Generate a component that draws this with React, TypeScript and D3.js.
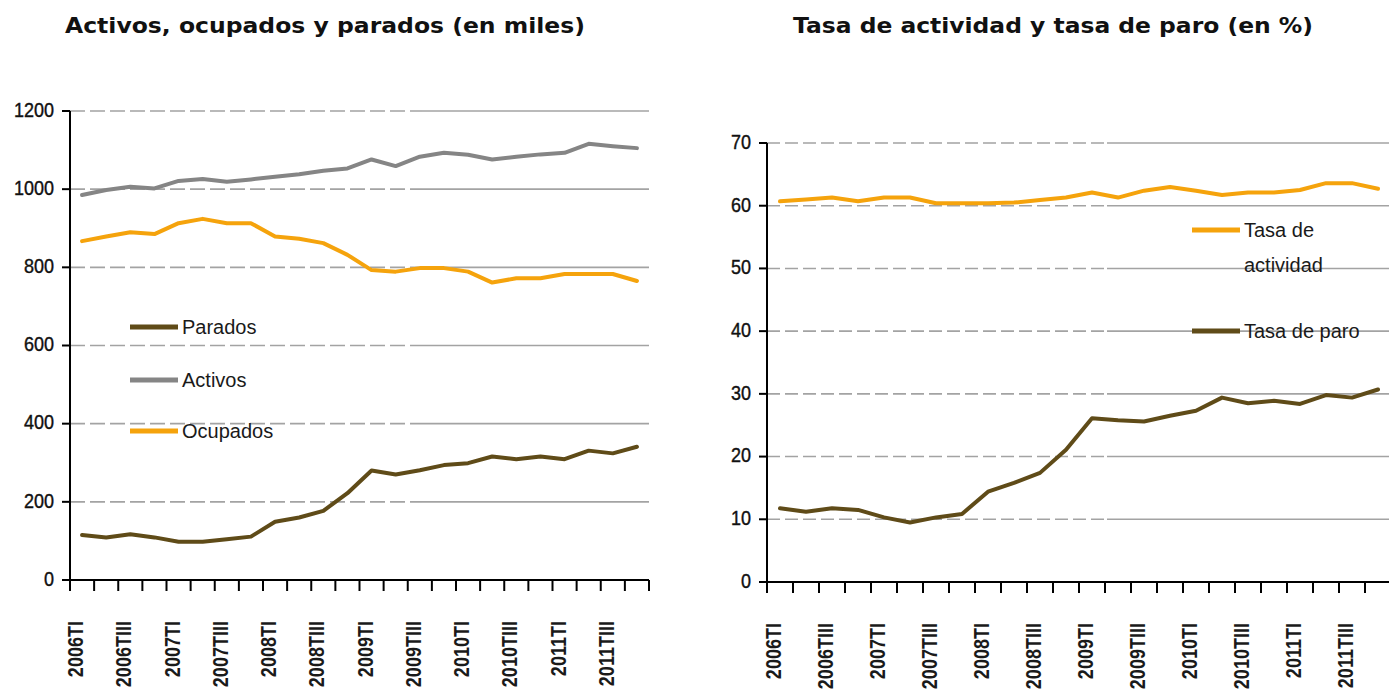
import React from "react";
import * as d3 from "d3";

const categories = [
  "2006TI", "2006TII", "2006TIII", "2006TIV",
  "2007TI", "2007TII", "2007TIII", "2007TIV",
  "2008TI", "2008TII", "2008TIII", "2008TIV",
  "2009TI", "2009TII", "2009TIII", "2009TIV",
  "2010TI", "2010TII", "2010TIII", "2010TIV",
  "2011TI", "2011TII", "2011TIII", "2011TIV",
];

const activos = [985, 998, 1006, 1002, 1021, 1026, 1019, 1025, 1032, 1038, 1047, 1053, 1076, 1059, 1083, 1093, 1088, 1076, 1083, 1089, 1093, 1116, 1110, 1105];
const ocupados = [867, 879, 890, 885, 913, 924, 913, 913, 879, 873, 862, 832, 793, 789, 798, 798, 789, 761, 772, 772, 783, 783, 783, 765];
const parados = [115, 109, 117, 109, 98, 98, 104, 111, 149, 160, 177, 222, 280, 270, 281, 294, 299, 316, 309, 316, 309, 331, 324, 341];

const tasaActividad = [60.7, 61.0, 61.3, 60.7, 61.3, 61.3, 60.4, 60.4, 60.4, 60.5, 60.9, 61.3, 62.1, 61.3, 62.4, 63.0, 62.4, 61.7, 62.1, 62.1, 62.5, 63.6, 63.6, 62.7];
const tasaParo = [11.75, 11.2, 11.75, 11.5, 10.3, 9.5, 10.3, 10.85, 14.4, 15.8, 17.4, 21.1, 26.1, 25.8, 25.6, 26.5, 27.3, 29.4, 28.5, 28.9, 28.4, 29.8, 29.4, 30.7];

const leftTicks = [0, 200, 400, 600, 800, 1000, 1200];
const rightTicks = [0, 10, 20, 30, 40, 50, 60, 70];

const C_PARADOS = "#5f4b18";
const C_ACTIVOS = "#858585";
const C_OCUPADOS = "#f5a30c";
const C_GRID = "#a3a3a3";
const FONT = "'Liberation Sans', Arial, sans-serif";

type Series = { values: number[]; color: string };
type Legend = { lines: string[]; color: string; y: number };

function Panel(props: {
  x0: number; x1: number; y0: number; y1: number; max: number;
  ticks: number[]; series: Series[]; split: number; dash: string;
  legendX: number; legends: Legend[]; title: string; titleX: number;
}) {
  const { x0, x1, y0, y1, max, ticks, series, split, dash, legendX, legends, title, titleX } = props;
  const x = d3.scaleBand<string>().domain(categories).range([x0, x1]).padding(0);
  const y = d3.scaleLinear().domain([0, max]).range([y0, y1]);
  const line = d3.line<number>()
    .x((_, i) => (x(categories[i]) as number) + x.bandwidth() / 2)
    .y((d) => y(d));
  const tickXs = categories.map((c) => x(c) as number).concat([x1]);
  return (
    <g>
      <text x={titleX} y={33} fontFamily="'DejaVu Sans', sans-serif" fontWeight="bold" fontSize={21}
        textLength={520} lengthAdjust="spacingAndGlyphs" fill="#111">{title}</text>
      {ticks.filter((t) => t > 0).map((t) => (
        <g key={"g" + t}>
          <line x1={x0} x2={split} y1={y(t)} y2={y(t)} stroke={C_GRID} strokeWidth={1.6} strokeDasharray={dash} />
          <line x1={split} x2={x1} y1={y(t)} y2={y(t)} stroke={C_GRID} strokeWidth={1.6} />
        </g>
      ))}
      {series.map((s, i) => (
        <path key={"s" + i} d={line(s.values) || ""} fill="none" stroke={s.color} strokeWidth={4}
          strokeLinejoin="round" strokeLinecap="round" />
      ))}
      <line x1={x0} x2={x0} y1={y(max)} y2={y0} stroke="#000" strokeWidth={2} />
      <line x1={x0} x2={x1} y1={y0} y2={y0} stroke="#000" strokeWidth={2} />
      {ticks.map((t) => (
        <g key={"yt" + t}>
          <line x1={x0 - 8} x2={x0} y1={y(t)} y2={y(t)} stroke="#000" strokeWidth={2} />
          <text transform={`translate(${x0 - 16},${y(t) - 1}) scale(0.9,1)`} textAnchor="end"
            dominantBaseline="central" fontFamily={FONT} fontSize={20} fill="#111"
            stroke="#111" strokeWidth={0.4}>{t}</text>
        </g>
      ))}
      {tickXs.map((tx, i) => (
        <line key={"xt" + i} x1={tx} x2={tx} y1={y0} y2={y0 + 11} stroke="#000" strokeWidth={2} />
      ))}
      {categories.map((c, i) => i % 2 === 0 ? (
        <text key={"xl" + i}
          transform={`translate(${(x(c) as number) + x.bandwidth() / 2 + 1},${y0 + 41}) rotate(-90) scale(0.82,1)`}
          textAnchor="end" fontFamily={FONT} fontSize={22} fontWeight="bold" fill="#1a1a1a">{c}</text>
      ) : null)}
      {legends.map((l, i) => (
        <g key={"lg" + i}>
          <line x1={legendX} x2={legendX + 48} y1={l.y} y2={l.y} stroke={l.color} strokeWidth={5} />
          {l.lines.map((t, j) => (
            <text key={j} x={legendX + 52} y={l.y + 7 + j * 35} fontFamily={FONT} fontSize={20} fill="#1a1a1a">{t}</text>
          ))}
        </g>
      ))}
    </g>
  );
}

export default function App() {
  return (
    <svg width={1389} height={691} style={{ position: "absolute", left: 0, top: 0, background: "#fff" }}>
      <rect width={1389} height={691} fill="#fff" />
      <Panel x0={70} x1={649} y0={580} y1={111} max={1200} ticks={leftTicks}
        series={[
          { values: activos, color: C_ACTIVOS },
          { values: ocupados, color: C_OCUPADOS },
          { values: parados, color: C_PARADOS },
        ]}
        split={422} dash="15,5" legendX={130}
        legends={[
          { lines: ["Parados"], color: C_PARADOS, y: 327 },
          { lines: ["Activos"], color: C_ACTIVOS, y: 380 },
          { lines: ["Ocupados"], color: C_OCUPADOS, y: 431 },
        ]}
        title="Activos, ocupados y parados (en miles)" titleX={65} />
      <Panel x0={767} x1={1391} y0={582} y1={143} max={70} ticks={rightTicks}
        series={[
          { values: tasaActividad, color: C_OCUPADOS },
          { values: tasaParo, color: C_PARADOS },
        ]}
        split={1107} dash="13,5" legendX={1192}
        legends={[
          { lines: ["Tasa de", "actividad"], color: C_OCUPADOS, y: 230 },
          { lines: ["Tasa de paro"], color: C_PARADOS, y: 331 },
        ]}
        title="Tasa de actividad y tasa de paro (en %)" titleX={793} />
    </svg>
  );
}
